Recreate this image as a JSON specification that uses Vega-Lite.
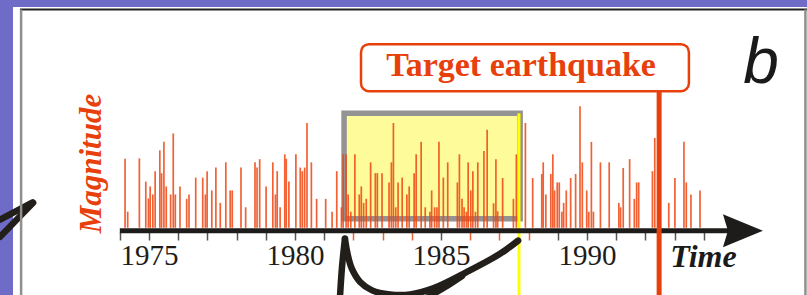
{
  "$schema": "https://vega.github.io/schema/vega-lite/v6.json",
  "width": 794,
  "height": 289,
  "autosize": "none",
  "padding": {"left": 13, "top": 7, "right": 0, "bottom": 0},
  "background": "#6e6cc6",
  "config": {
    "view": {"fill": "white", "stroke": null},
    "axisX": {"labelOverlap": false, "labelFlush": false, "labelBound": false, "domain": false, "grid": false, "title": null}
  },
  "resolve": {"axis": {"x": "independent"}},
  "layer": [
    {
      "data": {"values": [{"start": 1981.68, "end": 1987.71, "top": 5.85, "bottom": 3.225}]},
      "mark": {"type": "rect", "fill": "#fdfb9a", "stroke": "#939393", "strokeWidth": 5.5},
      "encoding": {
        "x": {"field": "start", "type": "quantitative", "scale": {"domain": [1970.342, 1997.534], "nice": false, "zero": false},
          "axis": {
            "orient": "bottom",
            "values": [1974,1975,1976,1977,1978,1979,1980,1981,1982,1983,1984,1985,1986,1987,1988,1989,1990,1991,1992,1993,1994],
            "labels": false,
            "offset": -64,
            "tickSize": 8, "tickWidth": 1.5,
            "tickColor": {"condition": {"test": "indexof([1982,1983,1984,1986,1987,1988], datum.value) >= 0", "value": "#f06030"}, "value": "#555555"}
          }},
        "x2": {"field": "end"},
        "y": {"field": "top", "type": "quantitative", "scale": {"domain": [1.3, 8.5], "nice": false, "zero": false}, "axis": null},
        "y2": {"field": "bottom"}
      }
    },
    {
      "data": {"values": [
        {"year":1974.18,"mag":4.72},{"year":1974.27,"mag":3.40},{"year":1974.67,"mag":4.73},{"year":1974.89,"mag":4.15},
        {"year":1974.98,"mag":3.73},{"year":1975.04,"mag":4.03},{"year":1975.13,"mag":3.83},{"year":1975.21,"mag":4.41},
        {"year":1975.37,"mag":4.93},{"year":1975.43,"mag":4.36},{"year":1975.51,"mag":5.14},{"year":1975.59,"mag":4.03},
        {"year":1975.74,"mag":3.83},{"year":1975.83,"mag":5.35},{"year":1975.90,"mag":3.83},{"year":1976.06,"mag":4.03},
        {"year":1976.29,"mag":3.72},{"year":1976.37,"mag":3.83},{"year":1976.60,"mag":4.25},{"year":1976.84,"mag":4.25},
        {"year":1976.93,"mag":3.83},{"year":1976.99,"mag":4.41},{"year":1977.15,"mag":3.93},{"year":1977.29,"mag":4.50},
        {"year":1977.44,"mag":3.62},{"year":1977.63,"mag":4.63},{"year":1977.78,"mag":3.93},{"year":1977.85,"mag":3.93},
        {"year":1978.15,"mag":4.50},{"year":1978.31,"mag":3.51},{"year":1978.63,"mag":4.63},{"year":1978.70,"mag":4.50},
        {"year":1978.79,"mag":4.71},{"year":1979.01,"mag":4.03},{"year":1979.24,"mag":4.63},{"year":1979.33,"mag":3.83},
        {"year":1979.39,"mag":4.41},{"year":1979.49,"mag":3.51},{"year":1979.65,"mag":4.83},{"year":1979.70,"mag":4.72},
        {"year":1979.79,"mag":4.15},{"year":1980.03,"mag":4.83},{"year":1980.18,"mag":4.50},{"year":1980.25,"mag":4.41},
        {"year":1980.33,"mag":4.50},{"year":1980.41,"mag":5.61},{"year":1980.56,"mag":4.63},{"year":1980.74,"mag":3.72},
        {"year":1981.05,"mag":3.72},{"year":1981.27,"mag":3.40},{"year":1981.43,"mag":4.41},{"year":1981.59,"mag":3.51},
        {"year":1981.65,"mag":4.83},{"year":1981.75,"mag":4.83},{"year":1981.82,"mag":3.83},{"year":1981.91,"mag":3.40},
        {"year":1982.05,"mag":4.83},{"year":1982.20,"mag":3.83},{"year":1982.27,"mag":4.03},{"year":1982.35,"mag":3.62},
        {"year":1982.44,"mag":3.72},{"year":1982.59,"mag":4.63},{"year":1982.75,"mag":4.36},{"year":1982.82,"mag":4.36},
        {"year":1982.98,"mag":4.36},{"year":1983.22,"mag":4.13},{"year":1983.30,"mag":4.63},{"year":1983.37,"mag":5.61},
        {"year":1983.45,"mag":3.51},{"year":1983.53,"mag":4.13},{"year":1983.67,"mag":4.25},{"year":1983.83,"mag":3.83},
        {"year":1983.91,"mag":4.03},{"year":1984.08,"mag":4.36},{"year":1984.15,"mag":4.83},{"year":1984.32,"mag":5.14},
        {"year":1984.46,"mag":3.51},{"year":1984.62,"mag":3.40},{"year":1984.68,"mag":3.93},{"year":1984.78,"mag":3.51},
        {"year":1984.86,"mag":3.51},{"year":1984.93,"mag":5.14},{"year":1985.08,"mag":4.25},{"year":1985.23,"mag":4.63},
        {"year":1985.56,"mag":4.13},{"year":1985.63,"mag":4.83},{"year":1985.72,"mag":3.72},{"year":1985.79,"mag":3.51},
        {"year":1985.87,"mag":3.40},{"year":1985.93,"mag":4.63},{"year":1986.02,"mag":3.93},{"year":1986.09,"mag":4.41},
        {"year":1986.18,"mag":3.40},{"year":1986.26,"mag":4.63},{"year":1986.47,"mag":4.91},{"year":1986.58,"mag":5.44},
        {"year":1986.80,"mag":3.61},{"year":1986.88,"mag":4.71},{"year":1986.94,"mag":3.41},{"year":1987.11,"mag":4.24},
        {"year":1987.48,"mag":3.72},{"year":1987.58,"mag":4.83},{"year":1987.89,"mag":5.61},{"year":1988.14,"mag":4.24},
        {"year":1988.45,"mag":4.34},{"year":1988.50,"mag":4.63},{"year":1988.59,"mag":3.83},{"year":1988.76,"mag":4.34},
        {"year":1988.83,"mag":4.83},{"year":1988.89,"mag":3.93},{"year":1988.98,"mag":4.13},{"year":1989.05,"mag":4.13},
        {"year":1989.14,"mag":3.40},{"year":1989.20,"mag":3.62},{"year":1989.29,"mag":3.93},{"year":1989.44,"mag":4.24},
        {"year":1989.61,"mag":4.34},{"year":1989.76,"mag":6.03},{"year":1989.84,"mag":4.63},{"year":1989.99,"mag":3.93},
        {"year":1990.06,"mag":3.40},{"year":1990.15,"mag":5.14},{"year":1990.22,"mag":3.40},{"year":1990.46,"mag":4.63},
        {"year":1990.76,"mag":4.63},{"year":1991.09,"mag":3.62},{"year":1991.15,"mag":3.51},{"year":1991.24,"mag":4.49},
        {"year":1991.46,"mag":4.71},{"year":1991.62,"mag":3.72},{"year":1991.70,"mag":4.13},{"year":1991.77,"mag":4.13},
        {"year":1992.24,"mag":4.41},{"year":1992.32,"mag":5.24},{"year":1992.80,"mag":3.62},{"year":1993.01,"mag":4.24},
        {"year":1993.32,"mag":5.14},{"year":1993.40,"mag":4.13},{"year":1993.56,"mag":3.83},{"year":1993.87,"mag":3.93}
      ]},
      "mark": {"type": "rule", "color": "#ef4510", "strokeWidth": 1.7, "opacity": 0.85},
      "encoding": {
        "x": {"field": "year", "type": "quantitative",
          "axis": {
            "orient": "bottom",
            "values": [1975, 1980, 1985, 1990],
            "format": "d",
            "ticks": false,
            "offset": -64,
            "labelFont": "Liberation Serif", "labelFontSize": 29, "labelColor": "#1e1c1a",
            "labelPadding": 32, "labelBaseline": "alphabetic"
          }},
        "y": {"field": "mag", "type": "quantitative"},
        "y2": {"datum": 3}
      }
    },
    {
      "data": {"values": [{"year": 1987.67, "top": 5.85, "bottom": 1.3}]},
      "mark": {"type": "rule", "color": "#ffff00", "strokeWidth": 3},
      "encoding": {
        "x": {"field": "year", "type": "quantitative", "axis": null},
        "y": {"field": "top", "type": "quantitative"},
        "y2": {"field": "bottom"}
      }
    },
    {
      "data": {"values": [{"start": 1974.0, "end": 1995.0, "level": 2.925}]},
      "mark": {"type": "rule", "color": "#1e1c1a", "strokeWidth": 5},
      "encoding": {
        "x": {"field": "start", "type": "quantitative", "axis": null},
        "x2": {"field": "end"},
        "y": {"field": "level", "type": "quantitative"}
      }
    },
    {
      "data": {"values": [{"year": 1995.34, "level": 2.925}]},
      "mark": {"type": "point", "shape": "M-1,-0.83L1,0L-1,0.83L-0.75,0Z", "size": 1600, "filled": true, "color": "#1e1c1a", "opacity": 1},
      "encoding": {
        "x": {"field": "year", "type": "quantitative", "axis": null},
        "y": {"field": "level", "type": "quantitative"}
      }
    },
    {
      "data": {"values": [{"year": 1992.47, "top": 6.4, "bottom": 1.3}]},
      "mark": {"type": "rule", "color": "#e8400c", "strokeWidth": 5},
      "encoding": {
        "x": {"field": "year", "type": "quantitative", "axis": null},
        "y": {"field": "top", "type": "quantitative"},
        "y2": {"field": "bottom"}
      }
    },
    {
      "data": {"values": [{"start": 1982.26, "end": 1993.49, "top": 7.575, "bottom": 6.4}]},
      "mark": {"type": "rect", "fill": "white", "stroke": "#e8400c", "strokeWidth": 2.5, "cornerRadius": 8},
      "encoding": {
        "x": {"field": "start", "type": "quantitative", "axis": null},
        "x2": {"field": "end"},
        "y": {"field": "top", "type": "quantitative"},
        "y2": {"field": "bottom"}
      }
    },
    {
      "data": {"values": [{"label": "Target earthquake", "year": 1987.74, "mag": 6.775}]},
      "mark": {"type": "text", "font": "Liberation Serif", "fontWeight": "bold", "fontSize": 34, "color": "#e8400c", "align": "center", "baseline": "alphabetic"},
      "encoding": {
        "x": {"field": "year", "type": "quantitative", "axis": null},
        "y": {"field": "mag", "type": "quantitative"},
        "text": {"field": "label"}
      }
    },
    {
      "data": {"values": [{"label": "b", "year": 1995.96, "mag": 6.6}]},
      "mark": {"type": "text", "font": "Liberation Sans", "fontStyle": "italic", "fontSize": 64, "color": "#1a1a1a", "align": "center", "baseline": "alphabetic"},
      "encoding": {
        "x": {"field": "year", "type": "quantitative", "axis": null},
        "y": {"field": "mag", "type": "quantitative"},
        "text": {"field": "label"}
      }
    },
    {
      "data": {"values": [{"label": "Time", "year": 1993.99, "mag": 2.025}]},
      "mark": {"type": "text", "font": "Liberation Serif", "fontStyle": "italic", "fontWeight": "bold", "fontSize": 32, "color": "#1a1a1a", "align": "center", "baseline": "alphabetic"},
      "encoding": {
        "x": {"field": "year", "type": "quantitative", "axis": null},
        "y": {"field": "mag", "type": "quantitative"},
        "text": {"field": "label"}
      }
    },
    {
      "data": {"values": [{"label": "Magnitude", "year": 1973.36, "mag": 4.6}]},
      "mark": {"type": "text", "font": "Liberation Serif", "fontStyle": "italic", "fontWeight": "bold", "fontSize": 31, "color": "#e8400c", "align": "center", "baseline": "alphabetic", "angle": 270},
      "encoding": {
        "x": {"field": "year", "type": "quantitative", "axis": null},
        "y": {"field": "mag", "type": "quantitative"},
        "text": {"field": "label"}
      }
    },
    {
      "data": {"values": [
        {"stroke": "right", "k": 1, "year": 1981.71, "mag": 2.725},
        {"stroke": "right", "k": 2, "year": 1981.80, "mag": 2.35},
        {"stroke": "right", "k": 3, "year": 1981.95, "mag": 1.975},
        {"stroke": "right", "k": 4, "year": 1982.23, "mag": 1.65},
        {"stroke": "right", "k": 5, "year": 1982.64, "mag": 1.44},
        {"stroke": "right", "k": 6, "year": 1983.25, "mag": 1.34},
        {"stroke": "right", "k": 7, "year": 1983.94, "mag": 1.34},
        {"stroke": "right", "k": 8, "year": 1984.73, "mag": 1.49},
        {"stroke": "right", "k": 9, "year": 1985.89, "mag": 1.90},
        {"stroke": "right", "k": 10, "year": 1987.02, "mag": 2.35},
        {"stroke": "right", "k": 11, "year": 1987.64, "mag": 2.68},
        {"stroke": "left", "k": 1, "year": 1981.71, "mag": 2.725},
        {"stroke": "left", "k": 2, "year": 1981.61, "mag": 2.025},
        {"stroke": "left", "k": 3, "year": 1981.54, "mag": 1.275},
        {"stroke": "barb", "k": 1, "year": 1984.55, "mag": 1.275},
        {"stroke": "barb", "k": 2, "year": 1985.14, "mag": 1.525},
        {"stroke": "barb", "k": 3, "year": 1985.72, "mag": 1.80},
        {"stroke": "edge", "k": 1, "year": 1971.03, "mag": 3.625},
        {"stroke": "edge", "k": 2, "year": 1969.90, "mag": 2.775},
        {"stroke": "edge2", "k": 1, "year": 1971.0, "mag": 3.625},
        {"stroke": "edge2", "k": 2, "year": 1969.90, "mag": 3.2}
      ]},
      "mark": {"type": "line", "color": "#221e1a", "strokeWidth": 6.5, "strokeCap": "round", "interpolate": "catmull-rom"},
      "encoding": {
        "x": {"field": "year", "type": "quantitative", "axis": null},
        "y": {"field": "mag", "type": "quantitative"},
        "detail": {"field": "stroke"},
        "order": {"field": "k"}
      }
    },
    {
      "data": {"values": [{"start": 1970.58, "end": 1997.534, "level": 8.4375}]},
      "mark": {"type": "rule", "color": "#222222", "strokeWidth": 2},
      "encoding": {
        "x": {"field": "start", "type": "quantitative", "axis": null},
        "x2": {"field": "end"},
        "y": {"field": "level", "type": "quantitative"}
      }
    },
    {
      "data": {"values": [{"year": 1970.62, "top": 8.4375, "bottom": 1.3}, {"year": 1997.48, "top": 8.4375, "bottom": 1.3}]},
      "mark": {"type": "rule", "color": "#8f8f8f", "strokeWidth": 2.5},
      "encoding": {
        "x": {"field": "year", "type": "quantitative", "axis": null},
        "y": {"field": "top", "type": "quantitative"},
        "y2": {"field": "bottom"}
      }
    }
  ]
}
